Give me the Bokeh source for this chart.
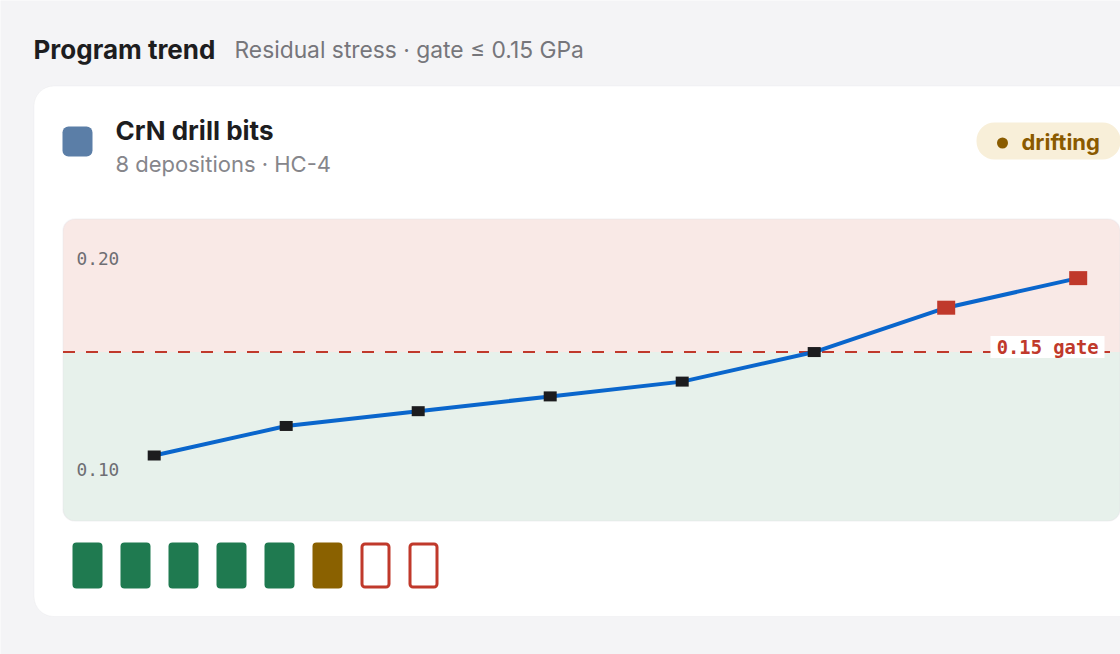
from bokeh.plotting import figure
from bokeh.models import Range1d, BoxAnnotation
from bokeh.core.properties import value
from bokeh.embed import file_html
from bokeh.resources import INLINE

# ---------------- data ----------------
deposition = [0, 1, 2, 3, 4, 5, 6, 7]
stress_gpa = [0.101, 0.115, 0.122, 0.129, 0.136, 0.150, 0.171, 0.185]
status = ["pass", "pass", "pass", "pass", "pass", "drift", "fail", "fail"]
gate = 0.15
ytick_values = [0.10, 0.20]
ytick_labels = ["0.10", "0.20"]

header_title = "Program trend"
header_sub = "Residual stress · gate ≤ 0.15 GPa"
card_title = "CrN drill bits"
card_sub = "8 depositions · HC-4"
badge_text = "drifting"
gate_text = "0.15 gate"

# ---------------- layout constants (page pixels) ----------------
W, H = 1120, 654
CHART_L, CHART_R, CHART_T, CHART_B = 62.5, 1119.5, 218.5, 520.5
Y_DOMAIN = (0.07, 0.213)
X_FIRST_PX, X_STEP_PX = 153.7, 132.0
STRIP_FIRST_PX, STRIP_STEP_PX = 87.0, 48.0

UI = value("Inter")
MONO = value("DejaVu Sans Mono")
BG = "#f4f4f6"

p = figure(width=W, height=H, x_range=Range1d(0, W), y_range=Range1d(H, 0),
           output_backend="svg", toolbar_location=None, x_axis_type=None, y_axis_type=None,
           min_border=0, background_fill_color=BG, border_fill_color=BG, outline_line_color=None)
p.grid.visible = False

# value scale for chart
k = (CHART_B - CHART_T) / (Y_DOMAIN[1] - Y_DOMAIN[0])
p.extra_y_ranges = {"val": Range1d(Y_DOMAIN[0] - (H - CHART_B) / k,
                                   Y_DOMAIN[1] + CHART_T / k)}
p.extra_x_ranges = {
    "idx": Range1d(-X_FIRST_PX / X_STEP_PX, (W - X_FIRST_PX) / X_STEP_PX),
    "strip": Range1d(-STRIP_FIRST_PX / STRIP_STEP_PX, (W - STRIP_FIRST_PX) / STRIP_STEP_PX),
}

# ---------------- card ----------------
p.add_layout(BoxAnnotation(left=33.5, right=1148, top=85.5, bottom=616, fill_color="white",
                           fill_alpha=1, line_color="#e3e3e8", line_width=1, border_radius=20,
                           level="underlay"))
# icon
p.add_layout(BoxAnnotation(left=62, right=92, top=126, bottom=156, fill_color="#5b7ea7",
                           fill_alpha=1, line_color=None, border_radius=6, level="underlay"))
# badge pill
p.add_layout(BoxAnnotation(left=976, right=1120, top=122, bottom=159, fill_color="#f8efd9",
                           fill_alpha=1, line_color=None, border_radius=18, level="underlay"))

# chart zones
p.add_layout(BoxAnnotation(left=CHART_L, right=CHART_R, top=CHART_T, bottom=CHART_B,
                           fill_color="#f9e9e6", fill_alpha=1, line_color=None,
                           border_radius=12, level="underlay"))
p.add_layout(BoxAnnotation(left=CHART_L, right=CHART_R, top=gate, bottom=Y_DOMAIN[0],
                           y_range_name="val", fill_color="#e7f1eb", fill_alpha=1, line_color=None,
                           border_radius=(0, 0, 12, 12), level="underlay"))
p.add_layout(BoxAnnotation(left=CHART_L, right=CHART_R, top=CHART_T, bottom=CHART_B,
                           fill_color=None, fill_alpha=0, line_color="#e2e2e9", line_width=1.5,
                           border_radius=12, level="underlay"))

# ---------------- texts ----------------
p.text(x=[33], y=[49], text=[header_title], text_font=UI, text_font_style="bold",
       text_font_size="26px", text_color="#1d1d1f", text_baseline="alphabetic")
p.text(x=[234], y=[49], text=[header_sub], text_font=UI, text_font_size="22.8px",
       text_color="#76767b", text_baseline="alphabetic")
p.text(x=[115], y=[129.5], text=[card_title], text_font=UI, text_font_style="bold",
       text_font_size="26px", text_color="#1d1d1f", text_baseline="alphabetic")
p.text(x=[115], y=[163.5], text=[card_sub], text_font=UI, text_font_size="22px",
       text_color="#86868b", text_baseline="alphabetic")
p.scatter(x=[1002], y=[142.5], marker="circle", size=11, fill_color="#8a5c00", line_color=None)
p.text(x=[1021], y=[141.5], text=[badge_text], text_font=UI, text_font_style="bold",
       text_font_size="22px", text_color="#8a5a00", text_baseline="alphabetic")

# y tick labels
p.text(x=[76] * len(ytick_values), y=ytick_values, y_range_name="val", text=ytick_labels,
       text_font=MONO, text_font_size="17.8px", text_color="#6e6e73", text_baseline="middle",
       y_offset=11.6)

# gate line and label
p.segment(x0=[CHART_L], x1=[CHART_R], y0=[gate], y1=[gate], y_range_name="val",
          line_color="#c0392b", line_width=2, line_dash="12 11")
p.quad(left=[990], right=[1104], top=[gate + 16 / k], bottom=[gate - 6 / k], y_range_name="val",
       fill_color="white", line_color=None)
p.text(x=[1098], y=[gate], y_range_name="val", text=[gate_text], text_font=MONO,
       text_font_style="bold", text_font_size="18.8px", text_color="#c0392b",
       text_align="right", text_baseline="middle", y_offset=-4.5)

# series line and markers
p.line(x=deposition, y=stress_gpa, x_range_name="idx", y_range_name="val",
       line_color="#0a66cc", line_width=4)
ok_x = [d for d, v in zip(deposition, stress_gpa) if v <= gate]
ok_y = [v for v in stress_gpa if v <= gate]
bad_x = [d for d, v in zip(deposition, stress_gpa) if v > gate]
bad_y = [v for v in stress_gpa if v > gate]
p.rect(x=ok_x, y=ok_y, width=13, height=10, width_units="screen", height_units="screen",
       x_range_name="idx", y_range_name="val", fill_color="#1c1c1e", line_color=None)
p.rect(x=bad_x, y=bad_y, width=18, height=14, width_units="screen", height_units="screen",
       x_range_name="idx", y_range_name="val", fill_color="#c0392b", line_color=None)

# status strip
fill_map = {"pass": "#1f7a50", "drift": "#8a6100"}
filled = [(d, fill_map[s]) for d, s in zip(deposition, status) if s in fill_map]
outlined = [d for d, s in zip(deposition, status) if s == "fail"]
p.vbar(x=[d for d, _ in filled], width=30 / STRIP_STEP_PX, top=542, bottom=588,
       x_range_name="strip", fill_color=[c for _, c in filled], line_color=None, border_radius=4)
p.vbar(x=outlined, width=27 / STRIP_STEP_PX, top=543.5, bottom=586.5, x_range_name="strip",
       fill_color="white", line_color="#c0392b", line_width=3, border_radius=3)

html = file_html(p, INLINE)
open("out.html", "w").write(html)
